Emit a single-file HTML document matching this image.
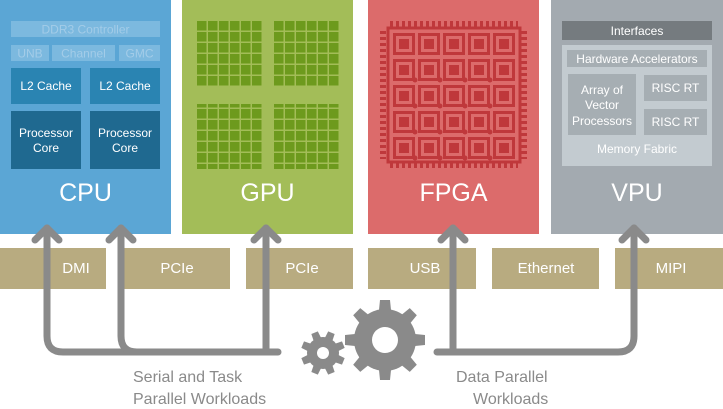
<!DOCTYPE html>
<html><head><meta charset="utf-8"><style>
html,body{margin:0;padding:0;background:#fff;}
svg{display:block;font-family:"Liberation Sans",sans-serif;}
</style></head><body>
<svg width="723" height="409" viewBox="0 0 723 409" xmlns="http://www.w3.org/2000/svg">
<defs>
<pattern id="gp" x="197" y="21" width="11" height="11" patternUnits="userSpaceOnUse"><rect width="9.5" height="9.5" fill="#6d9a1d"/></pattern>
<g id="fcell"><rect x="1.5" y="1.5" width="19" height="19" fill="none" stroke="#bf383b" stroke-width="3"/><rect x="6" y="6" width="10" height="10" fill="#bf383b"/></g>
<g id="tooth"><path d="M-6 -30 L-5 -40 H5 L6 -30 Z" fill="#8a8a8a"/></g>
<g id="toothS"><path d="M-4 -15 L-3.5 -22 H3.5 L4 -15 Z" fill="#8a8a8a"/></g>
</defs>
<!-- CPU -->
<rect x="0" y="0" width="171" height="234" fill="#5ba6d5"/>
<rect x="11" y="21" width="149" height="16" fill="#7cb9df"/>
<text x="85.5" y="33.5" font-size="12" fill="#a3cce8" text-anchor="middle">DDR3 Controller</text>
<rect x="11" y="45" width="38" height="16" fill="#7cb9df"/><text x="30" y="57.5" font-size="12" fill="#a3cce8" text-anchor="middle">UNB</text>
<rect x="52" y="45" width="63" height="16" fill="#7cb9df"/><text x="83.5" y="57.5" font-size="12" fill="#a3cce8" text-anchor="middle">Channel</text>
<rect x="119" y="45" width="41" height="16" fill="#7cb9df"/><text x="139.5" y="57.5" font-size="12" fill="#a3cce8" text-anchor="middle">GMC</text>
<rect x="11" y="68" width="70" height="36" fill="#2a84b2"/><text x="46" y="90" font-size="12" fill="#fff" text-anchor="middle">L2 Cache</text>
<rect x="90" y="68" width="70" height="36" fill="#2a84b2"/><text x="125" y="90" font-size="12" fill="#fff" text-anchor="middle">L2 Cache</text>
<rect x="11" y="111" width="70" height="58" fill="#1f6990"/><text x="46" y="137" font-size="12" fill="#fff" text-anchor="middle">Processor</text><text x="46" y="152" font-size="12" fill="#fff" text-anchor="middle">Core</text>
<rect x="90" y="111" width="70" height="58" fill="#1f6990"/><text x="125" y="137" font-size="12" fill="#fff" text-anchor="middle">Processor</text><text x="125" y="152" font-size="12" fill="#fff" text-anchor="middle">Core</text>
<text x="85.5" y="201" font-size="25" fill="#fff" text-anchor="middle">CPU</text>
<!-- GPU -->
<rect x="182" y="0" width="171" height="234" fill="#a3bd58"/>
<rect x="197" y="21" width="65" height="65" fill="url(#gp)"/>
<rect x="274" y="21" width="65" height="65" fill="url(#gp)"/>
<rect x="197" y="104" width="65" height="65" fill="url(#gp)"/>
<rect x="274" y="104" width="65" height="65" fill="url(#gp)"/>
<text x="267.5" y="201" font-size="25" fill="#fff" text-anchor="middle">GPU</text>
<!-- FPGA -->
<rect x="368" y="0" width="171" height="234" fill="#dc6b6b"/>
<g stroke="#bf383b" stroke-width="3" stroke-dasharray="3,3" fill="none">
<line x1="390" y1="24" x2="518" y2="24" stroke-width="6"/>
<line x1="390" y1="165" x2="518" y2="165" stroke-width="6"/>
<line x1="383" y1="31" x2="383" y2="159" stroke-width="6"/>
<line x1="524" y1="31" x2="524" y2="159" stroke-width="6"/>
</g>
<rect x="388" y="28" width="132" height="134" fill="none" stroke="#bf383b" stroke-width="3"/>
<g>
<use href="#fcell" x="393" y="33"/><use href="#fcell" x="418" y="33"/><use href="#fcell" x="443" y="33"/><use href="#fcell" x="468" y="33"/><use href="#fcell" x="493" y="33"/>
<use href="#fcell" x="393" y="59"/><use href="#fcell" x="418" y="59"/><use href="#fcell" x="443" y="59"/><use href="#fcell" x="468" y="59"/><use href="#fcell" x="493" y="59"/>
<use href="#fcell" x="393" y="85"/><use href="#fcell" x="418" y="85"/><use href="#fcell" x="443" y="85"/><use href="#fcell" x="468" y="85"/><use href="#fcell" x="493" y="85"/>
<use href="#fcell" x="393" y="111"/><use href="#fcell" x="418" y="111"/><use href="#fcell" x="443" y="111"/><use href="#fcell" x="468" y="111"/><use href="#fcell" x="493" y="111"/>
<use href="#fcell" x="393" y="137"/><use href="#fcell" x="418" y="137"/><use href="#fcell" x="443" y="137"/><use href="#fcell" x="468" y="137"/><use href="#fcell" x="493" y="137"/>
</g>
<g fill="#bf383b">
<circle cx="415" cy="80" r="2.5"/><circle cx="440" cy="80" r="2.5"/><circle cx="465" cy="80" r="2.5"/><circle cx="490" cy="80" r="2.5"/>
<circle cx="415" cy="106" r="2.5"/><circle cx="440" cy="106" r="2.5"/><circle cx="465" cy="106" r="2.5"/><circle cx="490" cy="106" r="2.5"/>
<circle cx="415" cy="132" r="2.5"/><circle cx="440" cy="132" r="2.5"/><circle cx="465" cy="132" r="2.5"/><circle cx="490" cy="132" r="2.5"/>
<circle cx="415" cy="158" r="2.5"/><circle cx="440" cy="158" r="2.5"/><circle cx="465" cy="158" r="2.5"/><circle cx="490" cy="158" r="2.5"/>
</g>
<text x="453.5" y="201" font-size="25" fill="#fff" text-anchor="middle">FPGA</text>
<!-- VPU -->
<rect x="551" y="0" width="172" height="234" fill="#a3aab0"/>
<rect x="562" y="21" width="150" height="19" fill="#757b7f"/>
<text x="637" y="35" font-size="12" fill="#fff" text-anchor="middle">Interfaces</text>
<rect x="562" y="45" width="150" height="121" fill="#c3cbd0"/>
<rect x="567" y="50" width="140" height="17" fill="#a6aeb3"/>
<text x="637" y="63" font-size="12" fill="#fff" text-anchor="middle">Hardware Accelerators</text>
<rect x="568" y="74" width="68" height="61" fill="#a6aeb3"/>
<text x="602" y="94" font-size="12" fill="#fff" text-anchor="middle">Array of</text>
<text x="602" y="109" font-size="12" fill="#fff" text-anchor="middle">Vector</text>
<text x="602" y="125" font-size="12" fill="#fff" text-anchor="middle">Processors</text>
<rect x="644" y="75" width="63" height="26" fill="#a6aeb3"/><text x="675.5" y="92" font-size="12" fill="#fff" text-anchor="middle">RISC RT</text>
<rect x="644" y="109" width="63" height="26" fill="#a6aeb3"/><text x="675.5" y="126" font-size="12" fill="#fff" text-anchor="middle">RISC RT</text>
<text x="637" y="153" font-size="12" fill="#fff" text-anchor="middle">Memory Fabric</text>
<text x="637" y="201" font-size="25" fill="#fff" text-anchor="middle">VPU</text>
<!-- Bars -->
<g fill="#b8ab80">
<rect x="0" y="248" width="106" height="41"/><rect x="122" y="248" width="108" height="41"/><rect x="246" y="248" width="107" height="41"/>
<rect x="368" y="248" width="108" height="41"/><rect x="492" y="248" width="107" height="41"/><rect x="615" y="248" width="108" height="41"/>
</g>
<g font-size="15" fill="#fff" text-anchor="middle">
<text x="76" y="273">DMI</text><text x="177" y="273">PCIe</text><text x="302" y="273">PCIe</text>
<text x="425" y="273">USB</text><text x="546" y="273">Ethernet</text><text x="671" y="273">MIPI</text>
</g>
<!-- Arrows -->
<g stroke="#8a8a8a" stroke-width="7" fill="none" stroke-linecap="round" stroke-linejoin="round">
<path d="M47 228 V336 Q47 352 63 352 H278"/>
<path d="M121 228 V336 Q121 352 137 352"/>
<path d="M266 228 V352"/>
<path d="M437 352 H618 Q634 352 634 336 V228"/>
<path d="M453 228 V352"/>
<path d="M35 240 L47 228 L59 240"/>
<path d="M109 240 L121 228 L133 240"/>
<path d="M254 240 L266 228 L278 240"/>
<path d="M441 240 L453 228 L465 240"/>
<path d="M622 240 L634 228 L646 240"/>
</g>
<!-- Gears -->
<g transform="translate(385,340)">
<circle r="31" fill="#8a8a8a"/>
<use href="#tooth"/><use href="#tooth" transform="rotate(45)"/><use href="#tooth" transform="rotate(90)"/><use href="#tooth" transform="rotate(135)"/>
<use href="#tooth" transform="rotate(180)"/><use href="#tooth" transform="rotate(225)"/><use href="#tooth" transform="rotate(270)"/><use href="#tooth" transform="rotate(315)"/>
<circle r="13" fill="#fff"/>
</g>
<g transform="translate(323,353)">
<circle r="16" fill="#8a8a8a"/>
<use href="#toothS" transform="rotate(22.5)"/><use href="#toothS" transform="rotate(67.5)"/><use href="#toothS" transform="rotate(112.5)"/><use href="#toothS" transform="rotate(157.5)"/>
<use href="#toothS" transform="rotate(202.5)"/><use href="#toothS" transform="rotate(247.5)"/><use href="#toothS" transform="rotate(292.5)"/><use href="#toothS" transform="rotate(337.5)"/>
<circle r="6" fill="#fff"/>
</g>
<!-- Labels -->
<g font-size="16" fill="#8a8a8a">
<text x="133" y="382">Serial and Task</text>
<text x="133" y="404">Parallel Workloads</text>
<text x="456" y="382">Data Parallel</text>
<text x="473" y="404">Workloads</text>
</g>
</svg>
</body></html>
